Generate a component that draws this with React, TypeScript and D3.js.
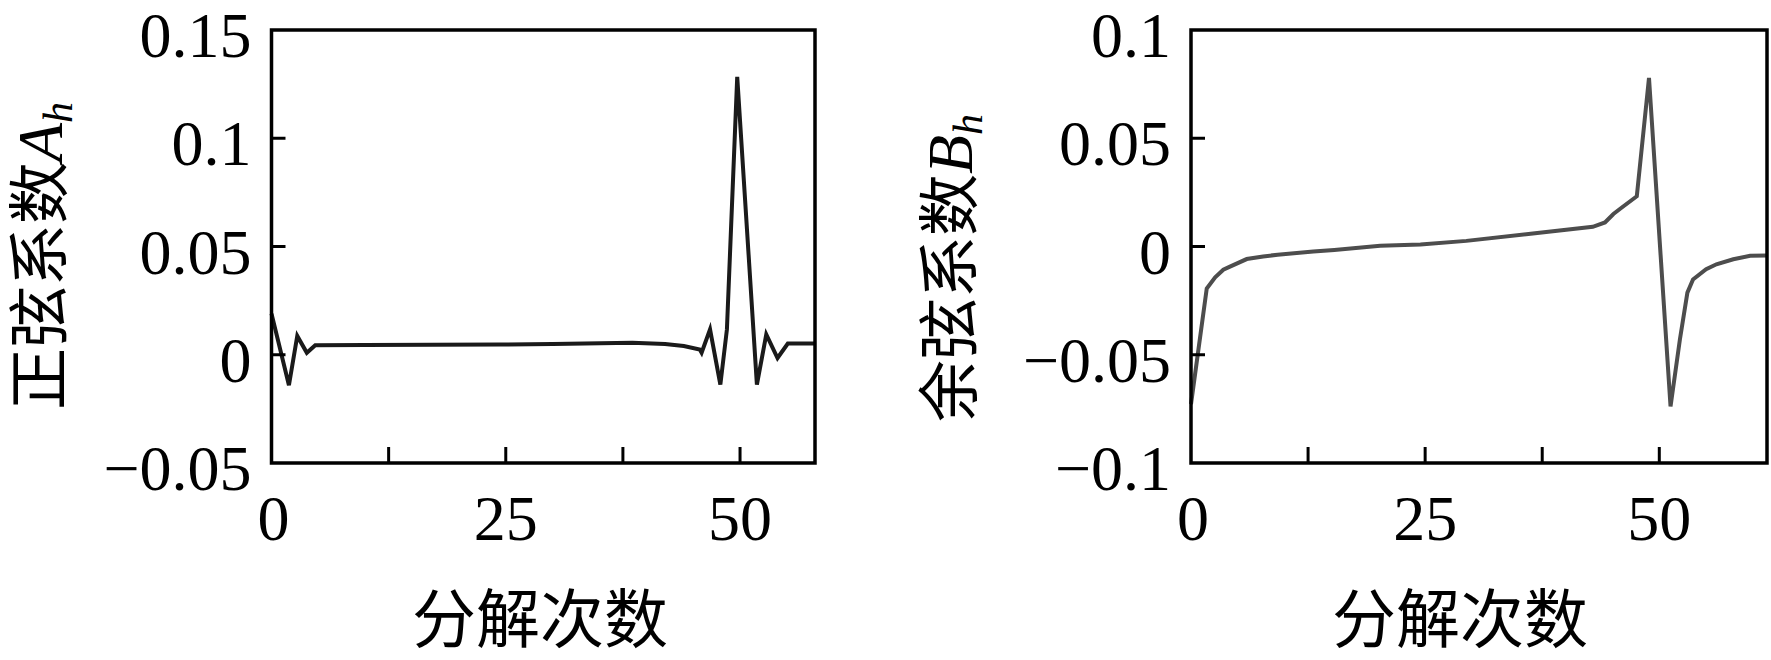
import React from 'react';
import * as d3 from 'd3';

// sine coefficients A_h (left panel)
const sineX = [0, 1.86, 2.75, 3.77, 4.67, 10, 24.4, 30, 38.5, 42, 44, 45.7, 45.9, 46.8, 47.9, 48.6, 49.7, 51.8, 52.8, 54.0, 55.1, 58];
const sineY = [0.019, -0.0141, 0.0087, 0.0009, 0.0044, 0.0045, 0.0047, 0.005, 0.0055, 0.005, 0.004, 0.0024, 0.0009, 0.0117, -0.0138, 0.0117, 0.1284, -0.0138, 0.0094, -0.0015, 0.0052, 0.0052];

// cosine coefficients B_h (right panel)
const cosX = [0, 1.68, 2.58, 3.45, 4.1, 5.95, 7.7, 9.25, 13.06, 15.3, 20.2, 24.5, 29.4, 36.5, 42.9, 44.2, 45.1, 46.0, 47.6, 48.9, 51.2, 52.2, 53.0, 53.6, 55.0, 56.1, 57.9, 59.7, 61.5];
const cosY = [-0.0728, -0.0194, -0.0142, -0.0107, -0.0094, -0.0058, -0.0046, -0.0038, -0.0023, -0.0016, 0.0003, 0.0009, 0.0026, 0.006, 0.0091, 0.0111, 0.015, 0.018, 0.0232, 0.0779, -0.0739, -0.043, -0.0213, -0.0152, -0.0105, -0.0082, -0.0059, -0.0043, -0.0042];

const xTicks = [0, 12.5, 25, 37.5, 50];
const xTickLabels = ['0', '', '25', '', '50'];
const sineYTicks = [-0.05, 0, 0.05, 0.1, 0.15];
const sineYLabels = ['\u22120.05', '0', '0.05', '0.1', '0.15'];
const cosYTicks = [-0.1, -0.05, 0, 0.05, 0.1];
const cosYLabels = ['\u22120.1', '\u22120.05', '0', '0.05', '0.1'];

const serif = '"Liberation Serif", "Times New Roman", serif';
const cjk = '"Noto Sans CJK SC", sans-serif';

type PanelProps = {
    left: number; right: number; xMax: number;
    yDomain: [number, number]; yTicks: number[]; yLabels: string[];
    xs: number[]; ys: number[]; color: string;
    labelX: number; labelY: number; title: string; sym: string;
    xLabelX: number;
};

function Panel(p: PanelProps) {
    const top = 30, bottom = 463;
    const x = d3.scaleLinear().domain([0, p.xMax]).range([p.left, p.right]);
    const y = d3.scaleLinear().domain(p.yDomain).range([bottom, top]);
    const line = d3.line<number>().x((d, i) => x(p.xs[i])).y(d => y(d));
    const tick = 14;
    return (
        <g>
            <path d={line(p.ys) || ''} fill="none" stroke={p.color} strokeWidth={4} strokeLinejoin="miter" />
            <rect x={p.left} y={top} width={p.right - p.left} height={bottom - top} fill="none" stroke="#000" strokeWidth={3.5} />
            {xTicks.map((t, i) => (
                <g key={'x' + i}>
                    {t > 0 && <line x1={x(t)} x2={x(t)} y1={bottom} y2={bottom - 16} stroke="#000" strokeWidth={3} />}
                    <text x={i === 0 ? p.left + 2 : x(t)} y={540} textAnchor="middle" fontFamily={serif} fontSize={64}>{xTickLabels[i]}</text>
                </g>
            ))}
            {p.yTicks.map((t, i) => (
                <g key={'y' + i}>
                    {i > 0 && i < p.yTicks.length - 1 && <line x1={p.left} x2={p.left + tick} y1={y(t)} y2={y(t)} stroke="#000" strokeWidth={3} />}
                    <text x={p.left - 20} y={y(t) + 27} textAnchor="end" fontFamily={serif} fontSize={64}>{p.yLabels[i]}</text>
                </g>
            ))}
            <text transform={`translate(${p.labelX},${p.labelY}) rotate(-90)`} textAnchor="middle" fontSize={62}>
                <tspan fontFamily={cjk}>{p.title}</tspan>
                <tspan fontFamily={serif} fontStyle="italic" fontSize={64}>{p.sym}</tspan>
                <tspan fontFamily={serif} fontStyle="italic" fontSize={42} dy={10}>h</tspan>
            </text>
            <text x={p.xLabelX} y={642} textAnchor="middle" fontFamily={cjk} fontSize={64}>分解次数</text>
        </g>
    );
}

export default function App() {
    return (
        <svg width={1771} height={660} style={{ position: 'absolute', left: 0, top: 0, background: '#fff' }}>
            <rect width={1771} height={660} fill="#fff" />
            <Panel left={271.5} right={815} xMax={58} yDomain={[-0.05, 0.15]} yTicks={sineYTicks} yLabels={sineYLabels}
                   xs={sineX} ys={sineY} color="#1a1a1a" labelX={62} labelY={256} title="正弦系数" sym="A" xLabelX={540} />
            <Panel left={1191} right={1767} xMax={61.5} yDomain={[-0.1, 0.1]} yTicks={cosYTicks} yLabels={cosYLabels}
                   xs={cosX} ys={cosY} color="#4d4d4d" labelX={972} labelY={268} title="余弦系数" sym="B" xLabelX={1460} />
        </svg>
    );
}
